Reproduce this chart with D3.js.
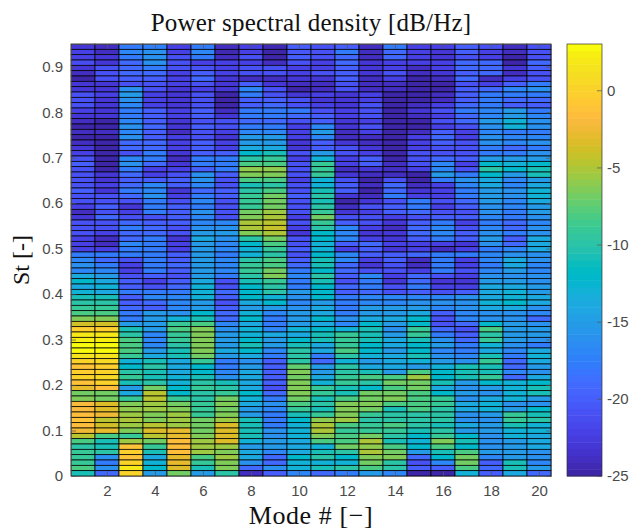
<!DOCTYPE html>
<html>
<head>
<meta charset="utf-8">
<script src="https://cdn.jsdelivr.net/npm/d3@7"></script>
<style>
  html, body { margin: 0; padding: 0; background: white; }
  .tick text { font-family: "Liberation Sans", sans-serif; font-size: 15px; fill: #4a4a4a; }
  .tick line, .domain { stroke: #555; stroke-width: 0.7px; }
  .label { font-family: "Liberation Serif", serif; fill: #111; }
</style>
</head>
<body>
<svg id="plot"></svg>
<script>
// Modes along x
const modes = d3.range(1, 21);
const modeTicks = [2, 4, 6, 8, 10, 12, 14, 16, 18, 20];
const stTicks = [0, 0.1, 0.2, 0.3, 0.4, 0.5, 0.6, 0.7, 0.8, 0.9];
const dbTicks = [-25, -20, -15, -10, -5, 0];
const stMax = 0.95;
const dbRange = [-25, 3];

// PSD in dB/Hz, one row per St bin, top of the chart first
const psd = [
[-23,-24,-18,-17.5,-22,-18,-24,-22,-24.5,-20,-21,-20,-24,-18,-22,-22,-20,-21,-24,-21],
[-22,-24,-17,-16,-22,-17,-24.5,-22,-25,-20.5,-21,-18,-24,-19,-22,-23,-20,-22,-24,-21],
[-22,-23,-18,-16,-21,-18,-24,-21,-25,-20,-21,-19,-24,-19,-22,-23,-21,-22,-25,-21],
[-21.5,-23,-19,-16,-21,-22,-22,-22,-24,-21,-22,-19,-23,-22,-22,-22,-19,-19,-25,-19],
[-23,-21,-19,-18,-21,-21,-22,-21,-21,-22,-22,-20,-23,-22,-24,-22,-19,-19,-23,-20],
[-24,-21,-19,-19,-22,-20,-22,-21,-21,-22,-21,-20,-23,-21,-24,-23,-20,-19,-24,-21],
[-25,-21,-20,-20,-22,-19,-23,-24,-24,-23,-23,-20,-24,-22,-25,-24,-19,-24,-22,-21],
[-23,-23,-21,-21,-22,-21,-23,-20,-23,-24,-24,-21,-24,-24,-25,-25,-21,-22,-20,-18],
[-23,-23,-16,-21,-23,-22,-23,-17,-21,-25,-24,-21,-24,-24,-25,-25,-20,-19,-17,-16],
[-21,-22,-15,-22,-23,-21,-25,-18,-21,-23,-22,-23,-22,-25,-25,-24,-20,-18,-18,-18],
[-21,-23,-16,-22,-23,-21,-25,-20,-20,-21,-23,-23,-22,-25,-25,-24,-20,-18,-19,-19],
[-21,-23,-17,-22,-23,-21,-25,-20,-19,-21,-22,-23,-21,-25,-24,-22,-19,-18,-20,-20],
[-22,-23,-18,-20,-22,-20,-24,-18,-18,-18,-21,-22,-21,-25,-23,-21,-18,-17,-15,-18],
[-23,-23,-18,-20,-22,-20,-23,-18,-18,-19,-20,-22,-21,-25,-24,-22,-19,-17,-15,-17],
[-24,-25,-17,-20,-23,-21,-21,-19,-19,-21,-20,-23,-22,-25,-25,-21,-19,-15,-13,-16],
[-25,-25,-16,-19,-23,-20,-21,-18,-18,-22,-17,-23,-21,-25,-25,-22,-21,-16,-13,-16],
[-24,-24,-17,-20,-24,-21,-22,-17,-17,-22,-15,-24,-22,-25,-24,-20,-22,-17,-18,-18],
[-25,-25,-16,-20,-22,-21,-23,-15,-15,-22,-17,-24,-24,-25,-22,-19,-22,-16,-17,-17],
[-24,-25,-19,-19,-22,-20,-22,-15,-15,-23,-20,-23,-24,-25,-22,-20,-21,-16,-17,-16],
[-23,-25,-19,-19,-22,-20,-22,-14,-14,-23,-20,-21,-23,-25,-22,-21,-21,-18,-19,-18],
[-22,-25,-21,-18,-23,-20,-20,-12,-11,-21,-15,-21,-22,-25,-21,-21,-21,-18,-18,-16],
[-21,-25,-17,-18,-24,-18,-18,-10,-9,-22,-13,-22,-20,-25,-21,-19,-20,-15,-15,-15],
[-20,-25,-16,-19,-23,-18,-18,-8,-8,-21,-9,-22,-20,-24,-21,-17,-22,-12,-13,-12],
[-21,-25,-18,-22,-22,-20,-18,-5.8,-5.8,-21,-9,-24,-23,-24,-22,-17,-21,-10,-12,-11],
[-21,-23,-19,-22,-21,-16,-20,-6.5,-6.5,-21,-9,-23,-24,-24,-25,-15,-18,-12,-15,-11],
[-21,-23,-20,-20,-20,-16,-21,-8,-8,-22,-13,-21,-25,-21,-25,-18,-16,-14,-17,-15],
[-21,-22,-19,-17,-20,-17,-21,-11,-10,-21,-13,-20,-24,-19,-24,-22,-17,-14,-17,-14],
[-20,-23,-18,-17,-23,-19,-20,-10,-8,-21,-11,-20,-25,-19,-23,-22,-18,-15,-16,-13],
[-21,-21,-19,-16,-22,-18,-20,-9,-7,-20,-10,-23,-24,-18,-22,-22,-18,-15,-16,-13],
[-21,-21,-21,-18,-21,-17,-21,-9,-7,-21,-11,-25,-23,-21,-18,-21,-19,-15,-17,-14],
[-22,-20,-23,-18,-20,-18,-21,-9,-7,-21,-10,-24,-21,-20,-18,-22,-20,-16,-17,-15],
[-24,-21,-22,-18,-20,-16,-21,-7,-5.5,-21,-9,-23,-22,-20,-19,-21,-21,-16,-18,-15],
[-23,-19,-21,-21,-20,-17,-21,-6.5,-5,-22,-7,-21,-21,-22,-21,-20,-20,-17,-18,-16],
[-21,-21,-19,-20,-20,-17,-17,-5,-4.5,-21,-9,-20,-21,-23,-20,-18,-22,-18,-19,-17],
[-21,-21,-18,-19,-21,-16,-16,-5,-4.2,-22,-10,-17,-22,-24,-19,-17,-21,-17,-19,-16],
[-21,-22,-19,-19,-21,-15,-15,-6.5,-5,-23,-12,-17,-23,-23,-19,-17,-20,-16,-18,-16],
[-22,-24,-19,-18,-23,-14,-16,-10,-7,-21,-12,-17,-22,-23,-20,-18,-20,-15,-20,-14],
[-22,-24,-17,-18,-22,-15,-17,-12,-8,-21,-13,-20,-19,-22,-22,-22,-23,-16,-19,-14],
[-22,-22,-18,-18,-22,-15,-17,-13,-9,-20,-13,-22,-20,-23,-22,-24,-22,-18,-17,-14],
[-18,-18,-18,-18,-20,-15,-18,-13,-10,-21,-12,-17,-20,-20,-19,-18,-18,-17,-16,-16],
[-17,-19,-21,-18,-20,-15,-17,-10,-8,-20,-11,-17,-22,-20,-24,-18,-22,-17,-14,-16],
[-16,-18,-22,-18,-19,-15,-17,-9,-8,-19,-11,-19,-23,-21,-24,-18,-22,-18,-14,-17],
[-17,-17,-22,-18,-20,-15,-17,-9,-7,-18,-12,-19,-21,-21,-22,-18,-21,-17,-15,-17],
[-14,-15,-21,-20,-21,-15,-18,-10,-6.5,-17,-10,-20,-17,-22,-19,-21,-22,-16,-16,-16],
[-12,-14,-20,-22,-20,-14,-21,-11,-9,-18,-11,-21,-18,-23,-19,-23,-23,-15,-15,-16],
[-14,-13,-20,-21,-19,-13,-21,-12,-10,-18,-12,-19,-18,-21,-18,-22,-22,-14,-14,-15],
[-13,-14,-18,-18,-18,-13,-19,-12,-10,-15,-12,-20,-19,-21,-20,-21,-20,-14,-13,-15],
[-11,-11,-20,-17,-17,-13,-20,-12,-13,-16,-12,-18,-17,-17,-17,-17,-16,-14,-13,-14],
[-10,-10,-20,-19,-17,-15,-21,-14,-12,-17,-15,-18,-17,-17,-16,-16,-16,-13,-12,-14],
[-9,-9,-19,-20,-17,-15,-20,-15,-15,-16,-14,-18,-15,-15,-15,-17,-16,-14,-14,-16],
[-8,-8,-18,-15,-16,-12,-19,-13,-17,-15,-14,-18,-15,-15,-14,-20,-17,-16,-16,-17],
[-6.5,-6.5,-18,-15,-13,-11,-19,-12,-18,-15,-12,-16,-14,-14,-12,-21,-17,-16,-16,-19],
[-4,-4,-15,-15,-9,-8,-17,-14,-18,-15,-14,-17,-12,-15,-12,-21,-19,-12,-15,-16],
[-0.5,-0.5,-11,-15,-8,-6.5,-16,-13,-17,-13,-12,-13,-11,-16,-9,-19,-21,-8,-15,-15],
[2,2,-10,-17,-9,-6.5,-15,-13,-14,-14,-11,-9,-11,-15,-9,-18,-20,-10,-15,-15],
[2.5,2.5,-8,-17,-9,-6.5,-15,-12,-15,-12,-11,-9,-11,-14,-11,-16,-19,-9,-15,-16],
[3,3,-8,-17,-10,-6.5,-15,-11,-15,-11,-14,-9,-12,-14,-12,-15,-18,-13,-16,-18],
[3,3,-8,-15,-11,-6.5,-14,-12,-17,-10,-14,-8,-12,-15,-12,-17,-18,-14,-17,-14],
[1.5,1.5,-9,-14,-11,-7,-15,-14,-18,-10,-18,-10,-13,-14,-11,-16,-17,-11,-18,-13],
[0,0.5,-13,-11,-14,-9,-18,-16,-20,-10,-19,-13,-15,-14,-13,-15,-16,-9,-19,-14],
[-1,-0.5,-12,-10,-14,-12,-18,-15,-20,-7.5,-15,-10,-14,-14,-15,-13,-11,-11,-19,-15],
[-0.5,0,-10,-11,-14,-12,-17,-14,-20,-6.5,-15,-10,-11,-15,-8,-12,-11,-11,-17,-16],
[0,0.5,-9,-11,-13,-11,-16,-14,-20,-7,-14,-9,-8,-8,-5.5,-12,-11,-9,-19,-14],
[-1,0,-11,-10,-13,-10,-11,-14,-20,-6.5,-13,-9,-10,-7,-7,-11,-15,-12,-13,-12],
[-3,-1.5,-15,-7,-12,-9,-10,-14,-21,-6.5,-9,-11,-12,-8,-7,-14,-16,-15,-13,-11],
[-7,-7,-14,-4.8,-12,-10,-9,-12,-19,-6.5,-9,-11,-7,-7,-8,-12,-15,-16,-13,-11],
[-6.5,-7,-9,-4.8,-9,-10,-7,-13,-18,-7,-11,-8,-7,-6.5,-8,-9,-16,-14,-13,-15],
[-2,-3.5,-6.5,-5.5,-7,-9,-6.5,-14,-16,-8,-10,-6.5,-6.5,-8,-8,-9,-14,-13,-16,-16],
[-2,-3.5,-6,-5.5,-6.5,-9,-7,-15,-17,-9,-11,-6.5,-7,-11,-8,-10,-14,-13,-15,-12],
[-1.5,-2.5,-5.5,-6.5,-5.5,-9,-6.5,-15,-18,-11,-9,-6.5,-9,-10,-10,-10,-16,-15,-9,-11],
[-1,-4.5,-5,-6.5,-5.5,-7,-5.5,-11,-18,-12,-6,-5.5,-10,-10,-10,-10,-16,-16,-9,-10],
[-1.5,-4,-5.5,-4.5,-5.5,-7,-3.5,-11,-18,-13,-5.2,-8,-9,-8,-10,-11,-14,-15,-11,-13],
[-2.5,-3,-6.5,-3.5,-3,-7,-3.5,-11,-16,-13,-5.2,-9,-9,-9,-11,-10,-15,-15,-13,-13],
[-4.5,-8,-9,-4.5,-3,-6.5,-3.5,-11,-16,-13,-6.5,-8,-7,-10,-12,-9,-12,-16,-13,-14],
[-8,-11,-5.5,-7,-1.5,-5.5,-3.5,-13,-15,-14,-8,-8,-5.2,-11,-13,-6.5,-11,-16,-15,-14],
[-10,-11,-1,-9,-1.5,-5.5,-5.5,-15,-15,-14,-13,-7,-5.8,-8,-12,-8,-12,-16,-15,-14],
[-9,-10,-0.5,-11,-1.5,-5.5,-6.5,-14,-17,-14,-11,-10,-5,-7,-15,-11,-8,-15,-15,-16],
[-9,-16,-1,-14,-3,-8,-5.5,-14,-19,-12,-10,-12,-6.5,-6.5,-19,-12,-7,-17,-15,-16],
[-9,-18,0,-13,-3,-9,-6.5,-16,-19,-13,-13,-13,-7,-10,-21,-17,-7,-20,-11,-17],
[-8,-16,2,-12,-3.5,-11,-6.5,-19,-16,-13,-11,-10,-8,-10,-20,-20,-8,-19,-11,-15],
[-11,-19,0,-15,-7,-15,-10,-24,-20,-17,-19,-18,-15,-17,-25,-25,-13,-20,-14,-19]
];

// parula, 64 levels
const parula = [
[.2422,.1504,.6603],[.2504,.1650,.7076],[.2578,.1818,.7511],[.2647,.1978,.7952],
[.2706,.2147,.8364],[.2751,.2342,.8710],[.2783,.2559,.8991],[.2803,.2782,.9221],
[.2813,.3006,.9414],[.2810,.3228,.9579],[.2795,.3447,.9717],[.2760,.3667,.9829],
[.2699,.3892,.9906],[.2602,.4123,.9952],[.2440,.4358,.9988],[.2206,.4603,.9973],
[.1963,.4847,.9892],[.1834,.5074,.9798],[.1786,.5289,.9682],[.1764,.5499,.9520],
[.1687,.5703,.9359],[.1540,.5902,.9218],[.1460,.6091,.9079],[.1380,.6276,.8973],
[.1248,.6459,.8883],[.1113,.6635,.8763],[.0952,.6798,.8598],[.0689,.6948,.8394],
[.0297,.7082,.8163],[.0036,.7203,.7917],[.0067,.7312,.7660],[.0433,.7411,.7394],
[.0964,.7500,.7120],[.1408,.7584,.6842],[.1717,.7670,.6554],[.1938,.7758,.6251],
[.2161,.7843,.5923],[.2470,.7918,.5567],[.2906,.7973,.5188],[.3406,.8008,.4789],
[.3909,.8029,.4354],[.4456,.8024,.3909],[.5044,.7993,.3480],[.5616,.7942,.3045],
[.6174,.7876,.2612],[.6720,.7793,.2227],[.7242,.7698,.1910],[.7738,.7598,.1646],
[.8203,.7498,.1535],[.8634,.7406,.1596],[.9035,.7330,.1774],[.9393,.7288,.2100],
[.9728,.7298,.2394],[.9956,.7434,.2371],[.9970,.7659,.2199],[.9952,.7861,.1990],
[.9892,.8073,.1802],[.9786,.8292,.1633],[.9676,.8507,.1492],[.9610,.8720,.1321],
[.9597,.8934,.1136],[.9629,.9154,.0900],[.9691,.9374,.0700],[.9763,.9831,.0538]
].map(c => d3.rgb(c[0] * 255, c[1] * 255, c[2] * 255).formatHex());

let width = 630, height = 530;
let margin = { top: 44, bottom: 54, left: 71, right: 79 };
let cbar = { x: 567, width: 35 };

let svg = d3.select('#plot')
  .attr('width', width)
  .attr('height', height)
  .style('display', 'block')
  .style('background', 'white');

// Scales
let xScale = d3.scaleLinear()
  .domain([0.5, 20.5])
  .range([margin.left, width - margin.right]);

let yScale = d3.scaleLinear()
  .domain([0, stMax])
  .range([height - margin.bottom, margin.top]);

let colorScale = d3.scaleQuantize()
  .domain(dbRange)
  .range(parula);

let dbScale = d3.scaleLinear()
  .domain(dbRange)
  .range([height - margin.bottom, margin.top]);

// Cells, drawn as pcolor with black edges
const dSt = stMax / psd.length;
let cells = psd.flatMap((row, r) => row.map((v, c) => ({
  mode: modes[c],
  st: (psd.length - 1 - r) * dSt,
  value: v
})));

svg.append('g')
  .selectAll('rect')
  .data(cells)
  .enter()
  .append('rect')
  .attr('x', d => xScale(d.mode - 0.5))
  .attr('y', d => yScale(d.st + dSt))
  .attr('width', d => xScale(d.mode + 0.5) - xScale(d.mode - 0.5))
  .attr('height', d => yScale(d.st) - yScale(d.st + dSt))
  .attr('fill', d => colorScale(d.value))
  .attr('stroke', 'black')
  .attr('stroke-width', 0.75);

// Axes, ticks point inward
let xAxis = svg.append('g')
  .attr('transform', `translate(0, ${height - margin.bottom})`)
  .call(d3.axisBottom(xScale).tickValues(modeTicks).tickFormat(d3.format('d')).tickSizeInner(-5).tickSizeOuter(0).tickPadding(9));

let yAxis = svg.append('g')
  .attr('transform', `translate(${margin.left}, 0)`)
  .call(d3.axisLeft(yScale).tickValues(stTicks).tickFormat(d => d === 0 ? '0' : d3.format('.1f')(d)).tickSizeInner(-5).tickSizeOuter(0).tickPadding(8));

// Top and right box edges
svg.append('g')
  .attr('transform', `translate(0, ${margin.top})`)
  .call(d3.axisTop(xScale).tickValues(modeTicks).tickFormat('').tickSizeInner(-5).tickSizeOuter(0));

svg.append('g')
  .attr('transform', `translate(${width - margin.right}, 0)`)
  .call(d3.axisRight(yScale).tickValues(stTicks).tickFormat('').tickSizeInner(-5).tickSizeOuter(0));

// Colorbar
let levels = d3.range(parula.length);
let levelHeight = (dbScale(dbRange[0]) - dbScale(dbRange[1])) / parula.length;

svg.append('g')
  .selectAll('rect')
  .data(levels)
  .enter()
  .append('rect')
  .attr('x', cbar.x)
  .attr('y', d => dbScale(dbRange[0]) - (d + 1) * levelHeight)
  .attr('width', cbar.width)
  .attr('height', levelHeight + 0.5)
  .attr('fill', d => parula[d]);

svg.append('rect')
  .attr('x', cbar.x)
  .attr('y', margin.top)
  .attr('width', cbar.width)
  .attr('height', height - margin.top - margin.bottom)
  .attr('fill', 'none')
  .attr('stroke', '#333')
  .attr('stroke-width', 0.7);

svg.append('g')
  .attr('transform', `translate(${cbar.x + cbar.width}, 0)`)
  .call(d3.axisRight(dbScale).tickValues(dbTicks).tickFormat(d => String(d)).tickSizeInner(-5).tickSizeOuter(0).tickPadding(5))
  .call(g => g.select('.domain').remove());

// Labels
svg.append('text')
  .attr('class', 'label')
  .attr('x', 311)
  .attr('y', 31)
  .attr('text-anchor', 'middle')
  .style('font-size', '25px')
  .style('letter-spacing', '0.2px')
  .text('Power spectral density [dB/Hz]');

svg.append('text')
  .attr('class', 'label')
  .attr('x', 311)
  .attr('y', 524)
  .attr('text-anchor', 'middle')
  .style('font-size', '26px')
  .style('letter-spacing', '0.6px')
  .text('Mode # [\u2212]');

svg.append('text')
  .attr('class', 'label')
  .attr('transform', 'translate(29, 260) rotate(-90)')
  .attr('text-anchor', 'middle')
  .style('font-size', '24px')
  .text('St [-]');
</script>
</body>
</html>
